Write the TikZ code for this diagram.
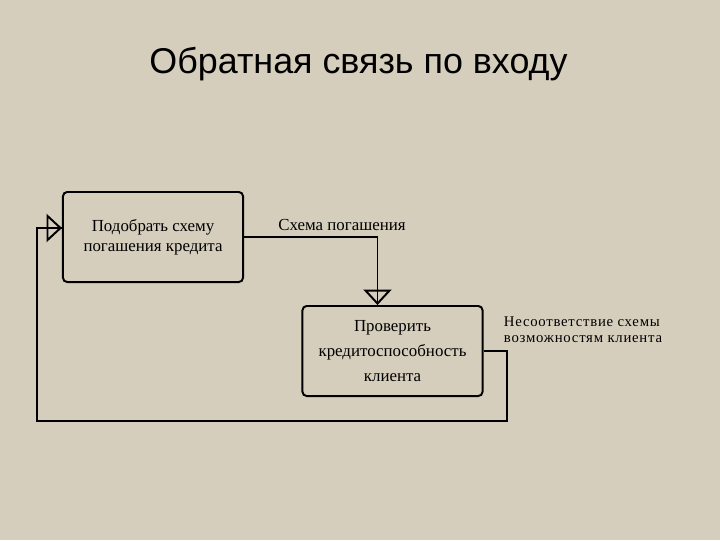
\documentclass[tikz,border=0pt]{standalone}
\usepackage{fontspec}
\setmainfont{Liberation Serif}
\newfontfamily\titlefont{Liberation Sans}
\usetikzlibrary{arrows.meta,calc}
\definecolor{paper}{RGB}{214,206,189}
\tikzset{
  func/.style={draw, line width=1.4pt, rounded corners=3pt, minimum width=4.5cm, minimum height=2.25cm, align=center, inner sep=0pt},
  flow/.style={line width=1.4pt, -{Triangle[open, length=11pt, width=20pt, line width=1.4pt]}},
  lbl/.style={font=\fontsize{10.5}{11.5}\selectfont\addfontfeatures{LetterSpace=5}, align=left, inner sep=0pt}
}
\begin{document}
\begin{tikzpicture}[x=0.025cm, y=-0.025cm]
  \fill[paper] (0,0) rectangle (720,540);
  \useasboundingbox (0,0) rectangle (720,540);
  \node[anchor=base, font=\titlefont\fontsize{25.5}{30}\selectfont] (title) at (358.5,73) {Обратная связь по входу};
  % functions
  \node[func, font=\fontsize{12}{14.2}\selectfont] (pick) at (153,237) {Подобрать схему\\погашения кредита};
  \node[func, font=\fontsize{12}{17.7}\selectfont] (check) at (392.5,351) {Проверить\\кредитоспособность\\клиента};
  % forward link
  \coordinate (in2) at ($(check.north)+(-15,0)$);
  \draw[flow] (pick.east) -| (in2);
  \draw[line width=1.4pt] (in2) -- ++(0,-16);
  \node[lbl, font=\fontsize{12}{14}\selectfont] (scheme) at (342,225) {Схема погашения};
  % feedback
  \coordinate (fbr) at (507,421);
  \coordinate (fbl) at (37,421);
  \coordinate (in1) at ($(pick.west)+(0,-9)$);
  \draw[flow] (check.east) -| (fbr) -- (fbl) |- (in1);
  \draw[line width=1.4pt] (in1) -- ++(-14,0);
  \node[lbl] (mismatch) at (583,330) {Несоответствие схемы\\возможностям клиента};
\end{tikzpicture}
\end{document}
